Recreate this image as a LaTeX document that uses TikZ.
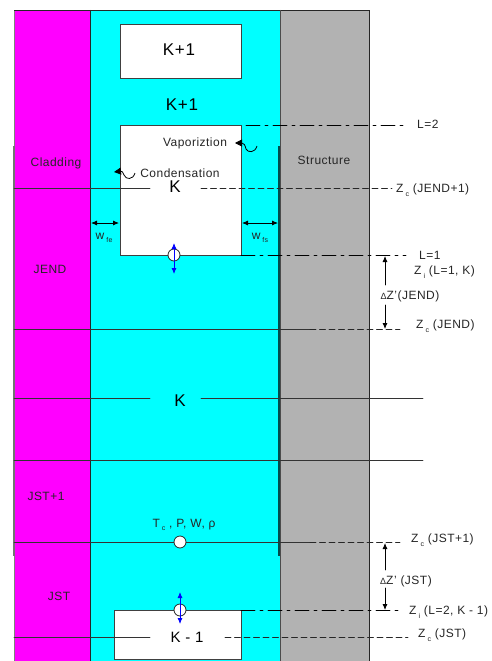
\documentclass[tikz,border=0pt]{standalone}
\usepackage{fontspec}
\setmainfont{Liberation Sans}[LetterSpace=4]
\usepackage{tikz}
\usepackage{tkz-euclide}
\usetikzlibrary{arrows.meta}
\definecolor{cladcolor}{RGB}{255,0,255}
\definecolor{coolcolor}{RGB}{0,255,255}
\definecolor{wallcolor}{RGB}{178,178,178}
\newcommand{\lowidx}[1]{\,\raisebox{-3.5pt}{\fontsize{7}{8}\selectfont #1}}
\tikzset{
  big/.style={font=\fontsize{17}{20}\selectfont,inner sep=1pt},
  lab/.style={font=\fontsize{12}{14}\selectfont,text=black!85,inner sep=1pt},
  solidline/.style={line width=0.8pt,color=black!80},
  dashline/.style={line width=0.8pt,dash pattern=on 6pt off 3.5pt,color=black!85},
  dotdash/.style={line width=0.9pt,dash pattern=on 14pt off 5pt on 3pt off 5pt,color=black},
  measure/.style={{Latex[length=6pt,width=5pt]}-{Latex[length=6pt,width=5pt]},line width=0.8pt,color=black},
  tohead/.style={-{Latex[length=6pt,width=5pt]},line width=0.8pt,color=black},
  wavy/.style={-{Triangle[length=7pt,width=7pt]},line width=0.8pt,color=black},
  flow/.style={{Latex[length=6pt,width=5pt]}-{Latex[length=6pt,width=5pt]},line width=0.8pt,color=blue},
  bubble/.style={circle,draw=black!85,fill=white,line width=0.8pt,inner sep=0pt,minimum size=12pt},
  cell/.style={draw=black!75,fill=white,line width=0.9pt,inner sep=0pt,anchor=north west}
}
\begin{document}
\begin{tikzpicture}[x=1pt,y=-1pt]
  \useasboundingbox (0,0) rectangle (492,661);
  \fill[cladcolor] (14,10) rectangle (90,661);
  \fill[coolcolor] (90,10) rectangle (280,661);
  \fill[wallcolor] (280,10) rectangle (369,661);
  \draw[line width=0.8pt,color=black!50] (14,661) -- (14,10);
  \draw[line width=0.8pt,color=black!85] (14,10) -- (369,10) -- (369,661);
  \draw[line width=1.5pt,color=black!55] (14,146) -- (14,556);
  \draw[line width=1pt,color=black!85] (90,10) -- (90,661);
  \draw[line width=0.7pt,color=black!70] (280,10) -- (280,661);
  \draw[line width=1.5pt,color=teal!60!black] (279,146) -- (279,556);
  \node[cell,minimum width=121pt,minimum height=54pt] (top) at (120,24) {};
  \node[cell,minimum width=121pt,minimum height=130pt] (mid) at (120,125) {};
  \node[cell,minimum width=127pt,minimum height=49pt] (low) at (114,610) {};
  \node[big] (ktop) at (179,50) {K+1};
  \node[big] (kgap) at (182,105) {K+1};
  \tkzDefPoint(14,188){A}
  \tkzDefPoint(150,188){B}
  \tkzDefPoint(201,188){C}
  \tkzDefPoint(392,188){D}
  \tkzDefPoint(14,329){E}
  \tkzDefPoint(310,329){F}
  \tkzDefPoint(400,329){G}
  \tkzDefPoint(14,398){H}
  \tkzDefPoint(150,398){I}
  \tkzDefPoint(201,398){J}
  \tkzDefPoint(423,398){K}
  \tkzDefPoint(14,460){M}
  \tkzDefPoint(423,460){N}
  \tkzDefPoint(14,542){P}
  \tkzDefPoint(310,542){Q}
  \tkzDefPoint(400,542){R}
  \tkzDefPoint(14,637){S}
  \tkzDefPoint(150,637){T}
  \tkzDefPoint(225,637){U}
  \tkzDefPoint(408,637){V}
  \tkzDefPoint(246,125){La}
  \tkzDefPoint(406,125){Lb}
  \tkzDefPoint(241,255){Lc}
  \tkzDefPoint(406,255){Ld}
  \tkzDefPoint(241,610){Le}
  \tkzDefPoint(400,610){Lf}
  \tkzDrawSegment[solidline](A,B)
  \tkzDrawSegment[dashline](C,D)
  \tkzDrawSegment[solidline](E,F)
  \tkzDrawSegment[dashline](F,G)
  \tkzDrawSegment[solidline](H,I)
  \tkzDrawSegment[solidline](J,K)
  \tkzDrawSegment[solidline](M,N)
  \tkzDrawSegment[solidline](P,Q)
  \tkzDrawSegment[dashline](Q,R)
  \tkzDrawSegment[solidline](S,T)
  \tkzDrawSegment[dashline](U,V)
  \tkzDrawSegment[dotdash](La,Lb)
  \tkzDrawSegment[dotdash](Lc,Ld)
  \tkzDrawSegment[dotdash](Le,Lf)
  \node[big] (kmid) at (175,187) {K};
  \node[big] (kup) at (180,401) {K};
  \node[font=\fontsize{15}{18}\selectfont,inner sep=1pt] (klow) at (187,637) {K - 1};
  \node[lab] (clad) at (56,163) {Cladding};
  \node[lab] (jend) at (50,269) {JEND};
  \node[lab] (jstp) at (46,496) {JST+1};
  \node[lab] (jst) at (59,596) {JST};
  \node[lab] (wall) at (324,160) {Structure};
  \node[lab] (vap) at (195,143) {Vaporiztion};
  \node[lab] (cond) at (180,173) {Condensation};
  \node[lab,anchor=west] (l2) at (416,124) {L=2};
  \node[lab,anchor=west] (l1) at (418,255) {L=1};
  \node[lab,anchor=west] (zc1) at (395,190) {Z\lowidx{c} (JEND+1)};
  \node[lab,anchor=west] (zi1) at (413,272) {Z\lowidx{i} (L=1, K)};
  \node[lab,anchor=west] (zc2) at (415,326) {Z\lowidx{c} (JEND)};
  \node[lab,anchor=west] (zc3) at (410,540) {Z\lowidx{c} (JST+1)};
  \node[lab,anchor=west] (zi2) at (408,612) {Z\lowidx{i} (L=2, K - 1)};
  \node[lab,anchor=west] (zc4) at (417,635) {Z\lowidx{c} (JST)};
  \node[lab] (dza) at (410,296) {{\fontsize{9}{10}\selectfont Δ}Z'(JEND)};
  \node[lab] (dzb) at (406,581) {{\fontsize{9}{10}\selectfont Δ}Z' (JST)};
  \tkzDefPoint(385,285){Ga}
  \tkzDefPoint(385,256){Ha}
  \tkzDefPoint(385,305){Gb}
  \tkzDefPoint(385,329){Hb}
  \tkzDefPoint(385,570){Gc}
  \tkzDefPoint(385,543){Hc}
  \tkzDefPoint(385,588){Gd}
  \tkzDefPoint(385,610){Hd}
  \tkzDrawSegment[tohead](Ga,Ha)
  \tkzDrawSegment[tohead](Gb,Hb)
  \tkzDrawSegment[tohead](Gc,Hc)
  \tkzDrawSegment[tohead](Gd,Hd)
  \tkzDefPoint(91,223){Wa}
  \tkzDefPoint(119,223){Wb}
  \tkzDefPoint(242,223){Wc}
  \tkzDefPoint(278,223){Wd}
  \tkzDrawSegment[measure](Wa,Wb)
  \tkzDrawSegment[measure](Wc,Wd)
  \node[lab] (wfe) at (104,238) {w\lowidx{fe}};
  \node[lab] (wfs) at (260,238) {w\lowidx{fs}};
  \node[bubble] (ca) at (174,255) {};
  \node[bubble] (cb) at (180,542) {};
  \node[bubble] (cc) at (180,610) {};
  \tkzDefPoint(174,243){Fa}
  \tkzDefPoint(174,274){Fb}
  \tkzDefPoint(180,592){Fc}
  \tkzDefPoint(180,624){Fd}
  \tkzDrawSegment[flow](Fa,Fb)
  \tkzDrawSegment[flow](Fc,Fd)
  \node[lab] (props) at (184,525) {T\lowidx{c} , P, W, ρ};
  \draw[wavy] (257,146) .. controls (255,153) and (248,153) .. (246,149) .. controls (245,145) and (244,143) .. (235,143);
  \draw[wavy] (135,173) .. controls (133,180) and (126,180) .. (124,175) .. controls (123,172) and (122,171) .. (114,172);
\end{tikzpicture}
\end{document}
